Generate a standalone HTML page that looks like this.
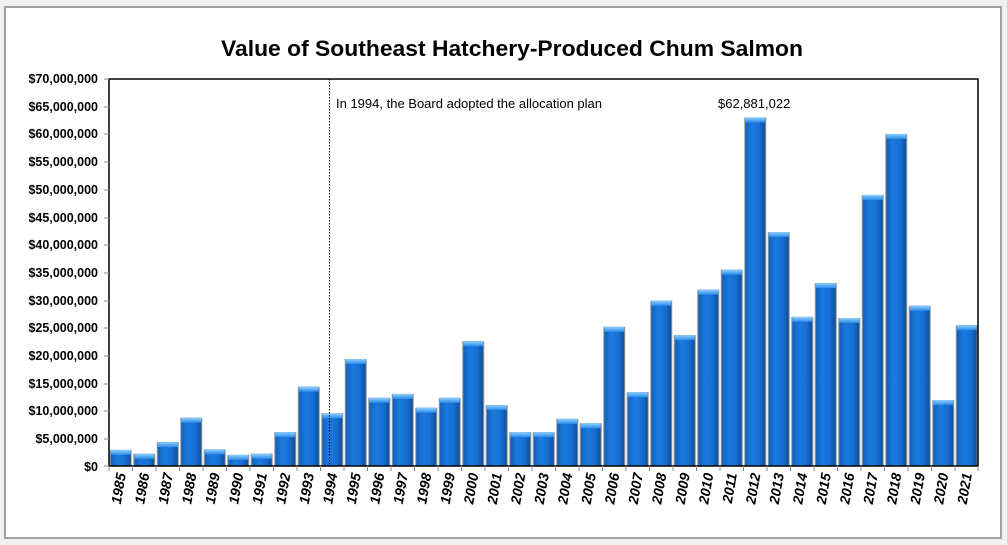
<!DOCTYPE html>
<html><head><meta charset="utf-8"><style>
html,body{margin:0;padding:0;background:#f0f0f0;}
svg{display:block;font-family:"Liberation Sans",sans-serif;}
</style></head><body>
<svg width="1007" height="545" viewBox="0 0 1007 545">
<defs>
<linearGradient id="g" x1="0" x2="1" y1="0" y2="0">
<stop offset="0" stop-color="#1560b8"/><stop offset="0.35" stop-color="#1a7ae0"/><stop offset="0.7" stop-color="#166fd4"/><stop offset="1" stop-color="#10509a"/>
</linearGradient>
<linearGradient id="cap" x1="0" x2="0" y1="0" y2="1">
<stop offset="0" stop-color="#8fd0ff"/><stop offset="1" stop-color="#2a8ae8"/>
</linearGradient>
</defs>
<rect x="5" y="7" width="996" height="531" fill="#fff" stroke="#a0a0a0" stroke-width="2"/>
<text x="512" y="56" text-anchor="middle" font-size="22" font-weight="bold" fill="#000" textLength="582" lengthAdjust="spacingAndGlyphs">Value of Southeast Hatchery-Produced Chum Salmon</text>
<g font-size="12.5" font-weight="bold" text-anchor="end" fill="#000">
<text x="98" y="83">$70,000,000</text>
<text x="98" y="111">$65,000,000</text>
<text x="98" y="138">$60,000,000</text>
<text x="98" y="166">$55,000,000</text>
<text x="98" y="194">$50,000,000</text>
<text x="98" y="222">$45,000,000</text>
<text x="98" y="249">$40,000,000</text>
<text x="98" y="277">$35,000,000</text>
<text x="98" y="305">$30,000,000</text>
<text x="98" y="332">$25,000,000</text>
<text x="98" y="360">$20,000,000</text>
<text x="98" y="388">$15,000,000</text>
<text x="98" y="415">$10,000,000</text>
<text x="98" y="443">$5,000,000</text>
<text x="98" y="471">$0</text>
</g>
<g id="bars"></g>
<rect x="109" y="79" width="869" height="387" fill="none" stroke="#000" stroke-width="1.5"/>
<g stroke="#888" stroke-width="1">
<line x1="104" y1="79" x2="109" y2="79"/><line x1="104" y1="107" x2="109" y2="107"/><line x1="104" y1="134" x2="109" y2="134"/><line x1="104" y1="162" x2="109" y2="162"/><line x1="104" y1="190" x2="109" y2="190"/><line x1="104" y1="218" x2="109" y2="218"/><line x1="104" y1="245" x2="109" y2="245"/><line x1="104" y1="273" x2="109" y2="273"/><line x1="104" y1="301" x2="109" y2="301"/><line x1="104" y1="328" x2="109" y2="328"/><line x1="104" y1="356" x2="109" y2="356"/><line x1="104" y1="384" x2="109" y2="384"/><line x1="104" y1="411" x2="109" y2="411"/><line x1="104" y1="439" x2="109" y2="439"/><line x1="104" y1="466" x2="109" y2="466"/>
</g>
<g id="ticks" stroke="#888"></g>
<line x1="329.5" y1="79" x2="329.5" y2="466" stroke="#000" stroke-width="1" stroke-dasharray="1.5,1.5"/>
<text x="336" y="108" font-size="13" fill="#000">In 1994, the Board adopted the allocation plan</text>
<text x="718" y="108" font-size="13" fill="#000">$62,881,022</text>
<g font-size="14" font-weight="bold" font-style="italic" text-anchor="end" fill="#000">
<text transform="translate(126,474) rotate(-80)">1985</text>
<text transform="translate(149.5,474) rotate(-80)">1986</text>
<text transform="translate(173,474) rotate(-80)">1987</text>
<text transform="translate(196.5,474) rotate(-80)">1988</text>
<text transform="translate(220,474) rotate(-80)">1989</text>
<text transform="translate(243.5,474) rotate(-80)">1990</text>
<text transform="translate(267,474) rotate(-80)">1991</text>
<text transform="translate(290.5,474) rotate(-80)">1992</text>
<text transform="translate(314,474) rotate(-80)">1993</text>
<text transform="translate(337.5,474) rotate(-80)">1994</text>
<text transform="translate(361,474) rotate(-80)">1995</text>
<text transform="translate(384.5,474) rotate(-80)">1996</text>
<text transform="translate(408,474) rotate(-80)">1997</text>
<text transform="translate(431.5,474) rotate(-80)">1998</text>
<text transform="translate(455,474) rotate(-80)">1999</text>
<text transform="translate(478.5,474) rotate(-80)">2000</text>
<text transform="translate(502,474) rotate(-80)">2001</text>
<text transform="translate(525.5,474) rotate(-80)">2002</text>
<text transform="translate(549,474) rotate(-80)">2003</text>
<text transform="translate(572.5,474) rotate(-80)">2004</text>
<text transform="translate(596,474) rotate(-80)">2005</text>
<text transform="translate(619.5,474) rotate(-80)">2006</text>
<text transform="translate(643,474) rotate(-80)">2007</text>
<text transform="translate(666.5,474) rotate(-80)">2008</text>
<text transform="translate(690,474) rotate(-80)">2009</text>
<text transform="translate(713.5,474) rotate(-80)">2010</text>
<text transform="translate(737,474) rotate(-80)">2011</text>
<text transform="translate(760.5,474) rotate(-80)">2012</text>
<text transform="translate(784,474) rotate(-80)">2013</text>
<text transform="translate(807.5,474) rotate(-80)">2014</text>
<text transform="translate(831,474) rotate(-80)">2015</text>
<text transform="translate(854.5,474) rotate(-80)">2016</text>
<text transform="translate(878,474) rotate(-80)">2017</text>
<text transform="translate(901.5,474) rotate(-80)">2018</text>
<text transform="translate(925,474) rotate(-80)">2019</text>
<text transform="translate(948.5,474) rotate(-80)">2020</text>
<text transform="translate(972,474) rotate(-80)">2021</text>
</g>
</svg>
<script>
var v=[2.9,2.2,4.3,8.7,3.0,2.0,2.2,6.1,14.3,9.5,19.3,12.3,13,10.5,12.3,22.5,11,6.1,6.1,8.5,7.7,25.1,13.3,29.8,23.6,31.8,35.4,62.88,42.2,26.9,33,26.7,48.9,59.9,28.9,11.9,25.4];
var ns="http://www.w3.org/2000/svg",b=document.getElementById('bars'),t=document.getElementById('ticks');
function el(n,a,p){var e=document.createElementNS(ns,n);for(var k in a)e.setAttribute(k,a[k]);p.appendChild(e);}
for(var i=0;i<v.length;i++){var c=120.75+23.5*i,h=v[i]*5.543,y=466-h;
el('rect',{x:c-11,y:y,width:22,height:h,fill:'#9a9a9a'},b);
el('rect',{x:c-10,y:y,width:20,height:h,fill:'url(#g)'},b);
el('rect',{x:c-10,y:y,width:20,height:5,fill:'url(#cap)'},b);
el('line',{x1:109+23.5*i,y1:466,x2:109+23.5*i,y2:471},t);}
el('line',{x1:978,y1:466,x2:978,y2:471},t);
</script>
</body></html>
